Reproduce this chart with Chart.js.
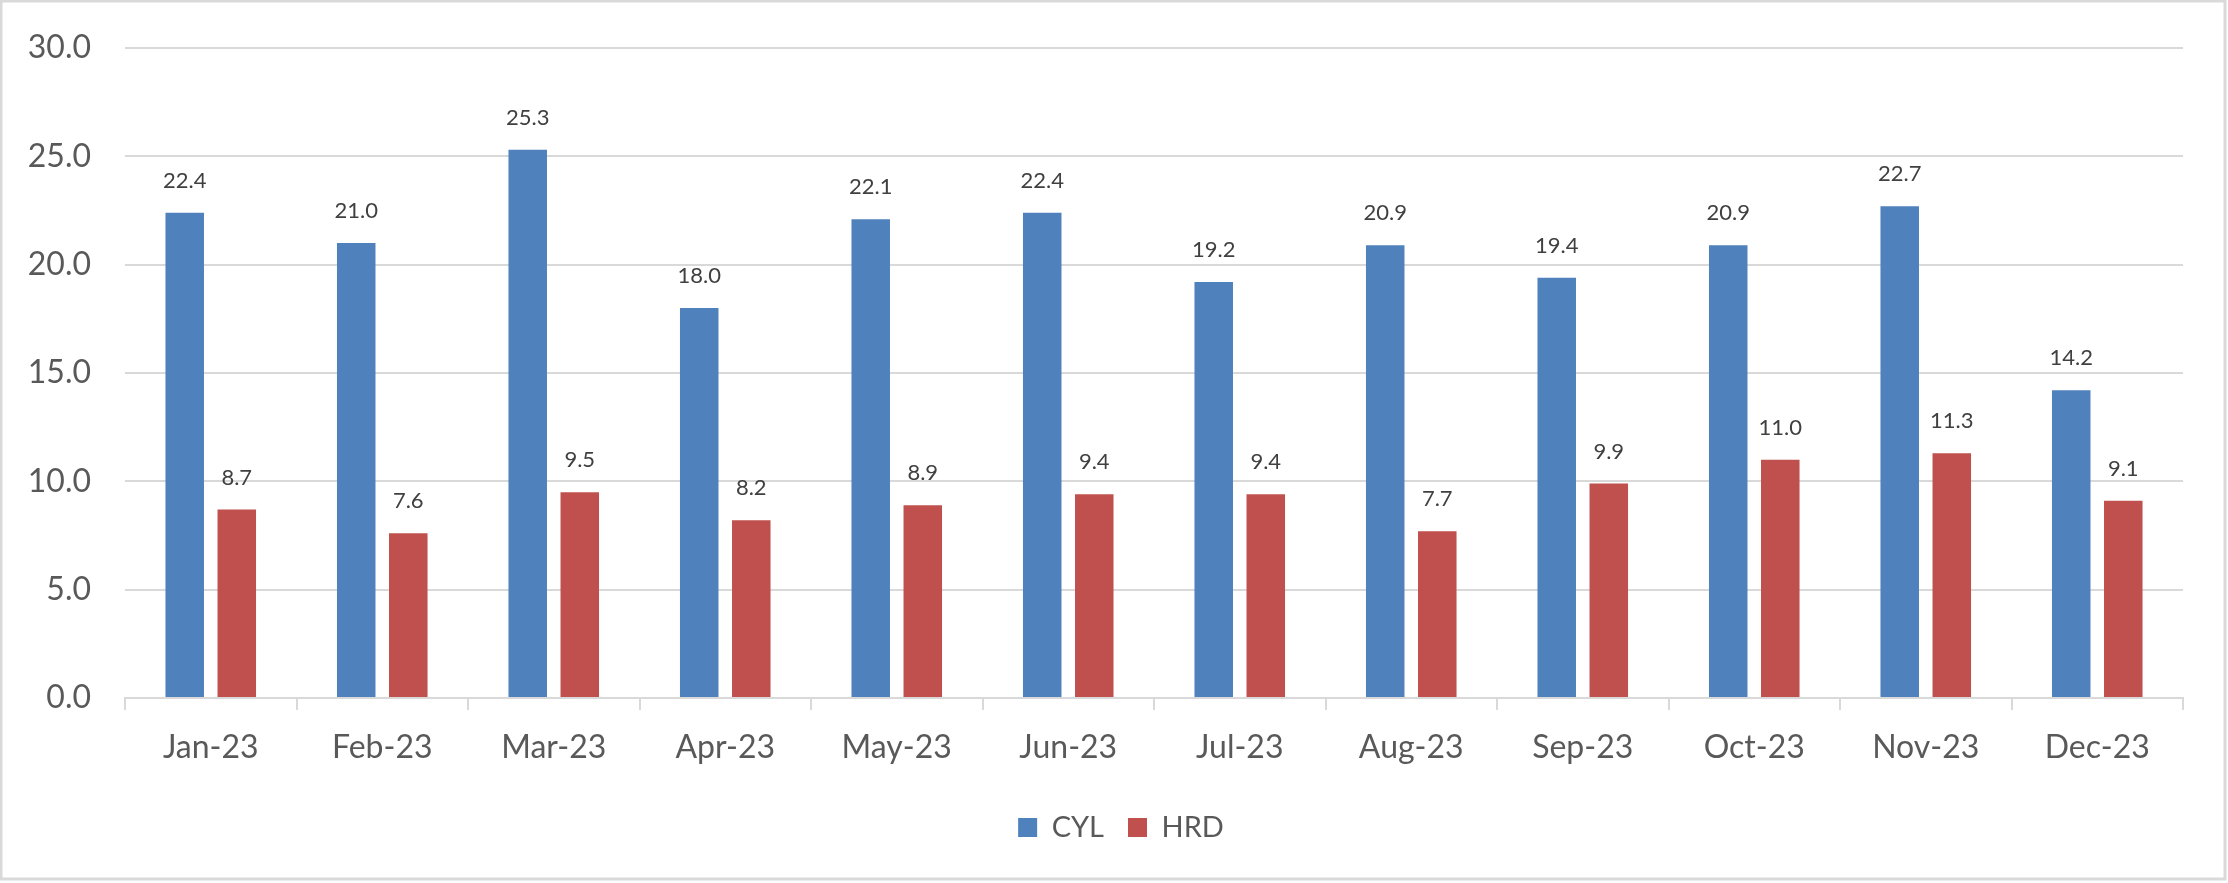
<!DOCTYPE html>
<html>
<head>
<meta charset="utf-8">
<script src="https://cdn.jsdelivr.net/npm/chart.js@4.4.1/dist/chart.umd.min.js"></script>
<style>
  html, body { margin: 0; padding: 0; background: #ffffff; }
  #wrap { width: 2228px; height: 883px; position: relative; }
</style>
</head>
<body>
<div id="wrap"><canvas id="myChart" width="2228" height="883"></canvas></div>
<script>
const months = ['Jan-23', 'Feb-23', 'Mar-23', 'Apr-23', 'May-23', 'Jun-23',
                'Jul-23', 'Aug-23', 'Sep-23', 'Oct-23', 'Nov-23', 'Dec-23'];
const cylValues = [22.4, 21.0, 25.3, 18.0, 22.1, 22.4, 19.2, 20.9, 19.4, 20.9, 22.7, 14.2];
const hrdValues = [8.7, 7.6, 9.5, 8.2, 8.9, 9.4, 9.4, 7.7, 9.9, 11.0, 11.3, 9.1];
const yTicks = [0, 5, 10, 15, 20, 25, 30];

const fontFamily = 'Lato, "Liberation Sans", sans-serif';

// white background + light frame around the whole chart
const framePlugin = {
  id: 'frame',
  beforeDraw(chart) {
    const ctx = chart.ctx;
    ctx.save();
    ctx.fillStyle = '#ffffff';
    ctx.fillRect(0, 0, chart.width, chart.height);
    ctx.strokeStyle = '#d9d9d9';
    ctx.lineWidth = 3;
    ctx.strokeRect(1, 1, chart.width - 4, chart.height - 5);
    ctx.restore();
  }
};

// value labels above each bar
const valueLabels = {
  id: 'valueLabels',
  afterDatasetsDraw(chart) {
    const ctx = chart.ctx;
    ctx.save();
    ctx.font = '22px ' + fontFamily;
    ctx.fillStyle = '#404040';
    ctx.textAlign = 'center';
    ctx.textBaseline = 'middle';
    chart.data.datasets.forEach((ds, i) => {
      const meta = chart.getDatasetMeta(i);
      meta.data.forEach((bar, j) => {
        ctx.fillText(ds.data[j].toFixed(1), bar.x, bar.y - 32);
      });
    });
    ctx.restore();
  }
};

function makeChart() {
  const ctx = document.getElementById('myChart');

  const myChart = new Chart(ctx, {
    type: 'bar',
    data: {
      labels: months,
      datasets: [{
        label: 'CYL',
        data: cylValues,
        backgroundColor: '#4F81BD',
        categoryPercentage: 0.607,
        barPercentage: 0.74
      }, {
        label: 'HRD',
        data: hrdValues,
        backgroundColor: '#C0504D',
        categoryPercentage: 0.607,
        barPercentage: 0.74
      }]
    },
    options: {
      responsive: false,
      animation: false,
      layout: {
        padding: { left: 14, right: 0, top: 48, bottom: 31 }
      },
      plugins: {
        tooltip: { enabled: false },
        legend: {
          position: 'bottom',
          labels: {
            color: '#595959',
            font: { family: fontFamily, size: 29 },
            boxWidth: 19,
            boxHeight: 19,
            padding: 24
          }
        }
      },
      scales: {
        y: {
          min: 0,
          max: 30,
          afterBuildTicks(scale) {
            scale.ticks = yTicks.map(v => ({ value: v }));
          },
          afterFit(scale) {
            scale.width = 111;
          },
          border: { display: false },
          grid: {
            color: '#d9d9d9',
            lineWidth: 2,
            drawTicks: true,
            tickLength: 34,
            tickColor: 'rgba(0,0,0,0)'
          },
          ticks: {
            color: '#595959',
            padding: 0,
            font: { family: fontFamily, size: 32 },
            callback: v => Number(v).toFixed(1)
          }
        },
        // empty right gutter so the legend centres on the whole frame
        yRight: {
          position: 'right',
          display: true,
          afterFit(scale) {
            scale.width = 45;
          },
          border: { display: false },
          grid: { display: false },
          ticks: { display: false }
        },
        x: {
          afterFit(scale) {
            scale.height = 91;
          },
          border: { color: '#d9d9d9', width: 2 },
          grid: {
            offset: true,
            drawOnChartArea: false,
            drawTicks: true,
            tickLength: 12,
            color: '#d9d9d9',
            lineWidth: 2
          },
          ticks: {
            color: '#595959',
            padding: 18,
            maxRotation: 0,
            font: { family: fontFamily, size: 32 }
          }
        }
      }
    },
    plugins: [framePlugin, valueLabels]
  });
  return myChart;
}

document.addEventListener('DOMContentLoaded', function() {
  makeChart();
});
</script>
</body>
</html>
